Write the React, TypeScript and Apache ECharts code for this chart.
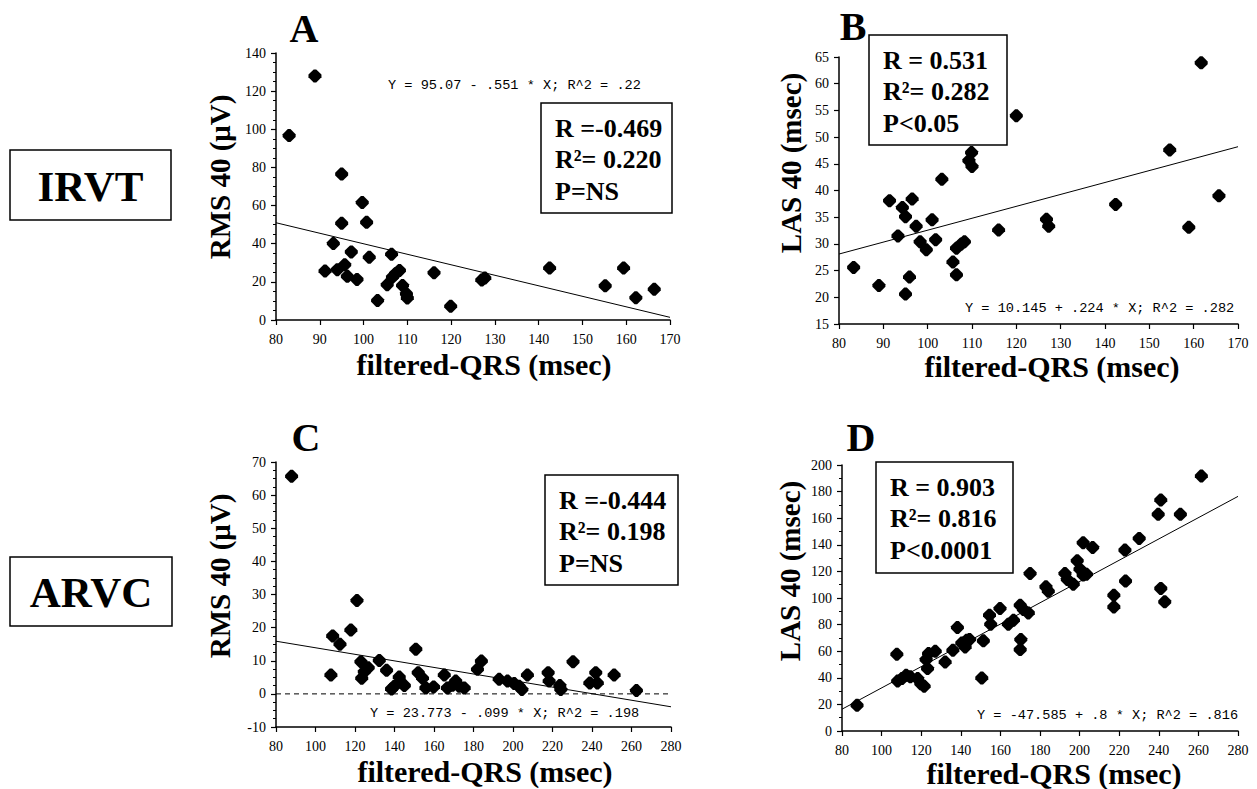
import React, { useEffect, useRef } from "react";
import * as echarts from "echarts";

// ---------- texts ----------
const panelLetters = ["A", "B", "C", "D"];
const groupLabels = ["IRVT", "ARVC"];
const xTitle = "filtered-QRS (msec)";
const yTitles = ["RMS 40 (μV)", "LAS 40 (msec)", "RMS 40 (μV)", "LAS 40 (msec)"];
const statTexts = [
  ["R =-0.469", "R²= 0.220", "P=NS"],
  ["R = 0.531", "R²= 0.282", "P<0.05"],
  ["R =-0.444", "R²= 0.198", "P=NS"],
  ["R = 0.903", "R²= 0.816", "P<0.0001"],
];
const equations = [
  "Y = 95.07 - .551 * X; R^2 = .22",
  "Y = 10.145 + .224 * X; R^2 = .282",
  "Y = 23.773 - .099 * X; R^2 = .198",
  "Y = -47.585 + .8 * X; R^2 = .816",
];

// ---------- data: [filtered-QRS (msec), value] ----------
const irvtRms = [
  [83.0, 96.7], [88.9, 128.0], [95.0, 76.5], [99.7, 61.6], [95.0, 50.7], [100.7, 51.2],
  [93.1, 40.1], [97.2, 35.7], [101.3, 32.9], [106.4, 34.5], [91.2, 25.7], [94.0, 26.4],
  [95.7, 29.0], [96.3, 22.9], [98.5, 21.3], [103.2, 10.2], [105.4, 18.5], [106.6, 22.5],
  [107.3, 24.3], [108.2, 26.0], [108.9, 18.1], [109.8, 13.7], [110.0, 11.6], [116.1, 24.8],
  [119.9, 7.2], [127.0, 21.0], [127.7, 22.0], [142.5, 27.3], [155.2, 17.9], [159.4, 27.3],
  [162.2, 11.7], [166.4, 16.1],
];
const irvtLas = [
  [83.3, 25.6], [89.0, 22.2], [95.0, 20.6], [95.9, 23.8], [91.4, 38.1], [96.5, 38.4],
  [94.3, 36.8], [95.0, 35.1], [93.3, 31.5], [97.4, 33.3], [98.3, 30.4], [99.7, 28.9],
  [101.0, 34.5], [101.8, 30.8], [103.2, 42.1], [105.7, 26.6], [106.5, 24.2], [106.5, 29.2],
  [107.6, 30.0], [108.3, 30.4], [109.3, 45.6], [109.9, 47.1], [110.0, 44.5], [120.0, 54.0],
  [116.0, 32.6], [126.8, 34.6], [127.3, 33.3], [142.4, 37.4], [154.6, 47.6], [158.9, 33.1],
  [161.7, 63.9], [165.7, 39.0],
];
const arvcRms = [
  [87.9, 65.7], [107.8, 5.7], [108.7, 17.5], [112.4, 15.0], [117.9, 19.3], [121.0, 28.2],
  [123.0, 9.7], [123.4, 4.7], [124.7, 6.7], [126.7, 7.9], [132.3, 10.1], [136.0, 7.1],
  [138.5, 1.5], [139.9, 2.3], [142.4, 5.1], [145.0, 2.5], [150.8, 13.5], [152.0, 6.4],
  [154.2, 4.7], [155.9, 1.8], [159.8, 2.1], [165.2, 5.7], [166.8, 1.8], [169.4, 2.6],
  [171.0, 3.9], [172.7, 2.3], [175.3, 1.8], [182.0, 7.4], [184.0, 9.9], [193.0, 4.4],
  [197.2, 3.9], [200.6, 3.1], [203.1, 2.3], [204.5, 1.3], [207.3, 5.7], [217.8, 6.4],
  [218.3, 3.9], [223.7, 2.5], [224.2, 1.3], [230.4, 9.7], [238.9, 3.3], [241.9, 6.4],
  [242.7, 3.3], [251.2, 5.7], [262.5, 1.0],
];
const arvcLas = [
  [87.6, 19.3], [107.7, 57.7], [108.1, 37.6], [110.3, 39.4], [112.4, 41.9], [114.5, 40.7],
  [118.2, 39.4], [119.8, 35.6], [121.5, 33.6], [123.2, 46.9], [122.5, 53.7], [123.7, 58.2],
  [127.1, 60.0], [132.1, 51.9], [136.0, 60.7], [138.3, 77.8], [140.5, 66.2], [142.2, 63.2],
  [143.0, 68.3], [144.4, 68.8], [150.6, 39.9], [151.4, 67.8], [154.5, 87.1], [155.1, 80.3],
  [159.8, 92.1], [164.0, 80.3], [166.6, 83.3], [170.0, 94.6], [170.3, 68.8], [170.0, 61.2],
  [171.6, 91.3], [174.1, 88.8], [175.0, 118.4], [183.0, 108.4], [184.2, 105.1], [192.6, 118.4],
  [193.8, 113.9], [196.8, 110.4], [198.8, 128.0], [200.2, 121.7], [201.8, 117.2], [201.8, 141.5],
  [203.5, 117.9], [206.6, 138.0], [217.3, 102.1], [217.3, 93.3], [222.9, 136.0], [223.2, 112.7],
  [230.1, 144.8], [239.7, 162.9], [241.0, 173.7], [241.0, 107.2], [243.0, 97.1], [250.9, 162.9],
  [261.5, 191.7],
];

// regression line end points as drawn
const fitA = [[80, 51.0], [170, 1.4]];
const fitB = [[80, 28.1], [170, 48.2]];
const fitC = [[80, 15.9], [280, -3.9]];
const fitD = [[80, 16.4], [280, 176.4]];
const zeroLineC = [[80, 0], [280, 0]];

const SYMBOL = "path://M4,0L6,0L10,4L10,6L6,10L4,10L0,6L0,4Z";
const SERIF = "'Liberation Serif', 'Times New Roman', serif";
const MONO = "'Liberation Mono', 'DejaVu Sans Mono', monospace";

function xAxisCfg(gridIndex: number, max: number, interval: number) {
  return {
    type: "value",
    gridIndex,
    min: 80,
    max,
    interval,
    axisLine: { show: true, onZero: false, lineStyle: { color: "#000", width: 1.5 } },
    axisTick: { show: true, length: 5, lineStyle: { color: "#000", width: 1.2 } },
    axisLabel: { color: "#000", fontFamily: SERIF, fontSize: 14, margin: 12 },
    splitLine: { show: false },
  };
}

function yAxisCfg(gridIndex: number, min: number, max: number, interval: number, minor: number) {
  return {
    type: "value",
    gridIndex,
    min,
    max,
    interval,
    axisLine: { show: true, onZero: false, lineStyle: { color: "#000", width: 1.5 } },
    axisTick: { show: true, length: 5, lineStyle: { color: "#000", width: 1.2 } },
    minorTick: { show: minor > 0, splitNumber: minor || 1, length: 3, lineStyle: { color: "#000", width: 1 } },
    minorSplitLine: { show: false },
    axisLabel: { color: "#000", fontFamily: SERIF, fontSize: 14, margin: 10 },
    splitLine: { show: false },
  };
}

export default function App() {
  const ref = useRef<HTMLDivElement>(null);

  useEffect(() => {
    if (!ref.current) return;
    const chart = echarts.init(ref.current, undefined, { renderer: "svg" });

    const grids = [
      { left: 276, top: 53, width: 394, height: 267 },
      { left: 839, top: 57, width: 399, height: 267 },
      { left: 276, top: 462, width: 395, height: 265 },
      { left: 842, top: 465, width: 396, height: 266 },
    ];

    const scatterData = [irvtRms, irvtLas, arvcRms, arvcLas];
    const fits = [fitA, fitB, fitC, fitD];

    const series: any[] = [];
    scatterData.forEach((d, i) => {
      series.push({
        type: "scatter",
        xAxisIndex: i,
        yAxisIndex: i,
        data: d,
        symbol: SYMBOL,
        symbolSize: 13,
        itemStyle: { color: "#000", opacity: 1 },
        z: 4,
        silent: true,
      });
      series.push({
        type: "line",
        xAxisIndex: i,
        yAxisIndex: i,
        data: fits[i],
        symbol: "none",
        showSymbol: false,
        lineStyle: { color: "#000", width: 1 },
        z: 3,
        silent: true,
      });
    });
    series.push({
      type: "line",
      xAxisIndex: 2,
      yAxisIndex: 2,
      data: zeroLineC,
      symbol: "none",
      showSymbol: false,
      lineStyle: { color: "#000", width: 1, type: [5, 4] },
      z: 2,
      silent: true,
    });

    const textEl = (text: string, x: number, y: number, font: string, align = "center", rotation = 0) => ({
      type: "text",
      x,
      y,
      rotation,
      z: 10,
      style: {
        text,
        font,
        fill: "#000",
        align,
        verticalAlign: "middle",
        textAlign: align,
        textVerticalAlign: "middle",
      },
    });

    const rectEl = (x: number, y: number, w: number, h: number) => ({
      type: "rect",
      z: 9,
      shape: { x, y, width: w, height: h },
      style: { fill: "#fff", stroke: "#000", lineWidth: 1.5 },
    });

    const graphic: any[] = [];
    const letterPos = [[304, 28], [853, 26], [306, 437], [861, 437]];
    panelLetters.forEach((t, i) =>
      graphic.push(textEl(t, letterPos[i][0], letterPos[i][1], `bold 40px ${SERIF}`))
    );
    graphic.push(rectEl(10, 150, 161, 70));
    graphic.push(textEl(groupLabels[0], 90.5, 186, `bold 43px ${SERIF}`));
    graphic.push(rectEl(10, 557, 162, 69));
    graphic.push(textEl(groupLabels[1], 91, 592, `bold 43px ${SERIF}`));
    const boxes = [
      [541, 103, 131, 110],
      [869, 35, 138, 110],
      [545, 475, 133, 110],
      [876, 462, 137, 111],
    ];
    boxes.forEach((b, i) => {
      graphic.push(rectEl(b[0], b[1], b[2], b[3]));
      const offs = [25, 56, 88];
      statTexts[i].forEach((t, j) =>
        graphic.push(textEl(t, b[0] + 14, b[1] + offs[j], `bold 26px ${SERIF}`, "left"))
      );
    });
    const eqPos = [[388, 85], [965, 308], [370, 713], [977, 715]];
    equations.forEach((t, i) =>
      graphic.push(textEl(t, eqPos[i][0], eqPos[i][1], `13.6px ${MONO}`, "left"))
    );
    const yNamePos = [[220, 177], [791, 163], [220, 576], [790, 571]];
    yTitles.forEach((t, i) =>
      graphic.push(textEl(t, yNamePos[i][0], yNamePos[i][1], `bold 29px ${SERIF}`, "center", Math.PI / 2))
    );
    const xNamePos = [[484, 364], [1052, 366], [485, 771], [1054, 773]];
    xNamePos.forEach((p) => graphic.push(textEl(xTitle, p[0], p[1], `bold 30px ${SERIF}`)));

    chart.setOption({
      animation: false,
      backgroundColor: "#fff",
      grid: grids,
      xAxis: [
        xAxisCfg(0, 170, 10),
        xAxisCfg(1, 170, 10),
        xAxisCfg(2, 280, 20),
        xAxisCfg(3, 280, 20),
      ],
      yAxis: [
        yAxisCfg(0, 0, 140, 20, 4),
        yAxisCfg(1, 15, 65, 5, 0),
        yAxisCfg(2, -10, 70, 10, 4),
        yAxisCfg(3, 0, 200, 20, 2),
      ],
      series,
      graphic,
    });

    return () => chart.dispose();
  }, []);

  return (
    <div
      ref={ref}
      style={{ position: "fixed", left: 0, top: 0, width: 1257, height: 789, background: "#fff" }}
    />
  );
}
